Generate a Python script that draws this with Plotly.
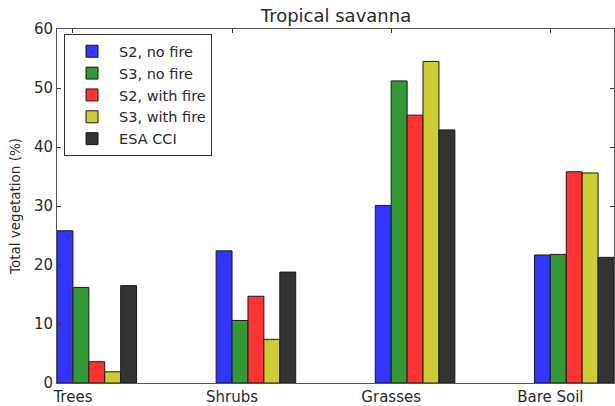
import plotly.graph_objects as go

categories = ["Trees", "Shrubs", "Grasses", "Bare Soil"]
series_names = ["S2, no fire", "S3, no fire", "S2, with fire", "S3, with fire", "ESA CCI"]
s2_no_fire = [25.8, 22.4, 30.1, 21.7]
s3_no_fire = [16.2, 10.6, 51.2, 21.8]
s2_with_fire = [3.6, 14.7, 45.4, 35.8]
s3_with_fire = [1.9, 7.4, 54.5, 35.6]
esa_cci = [16.5, 18.8, 42.9, 21.3]
y_ticks = [0, 10, 20, 30, 40, 50, 60]

series_values = [s2_no_fire, s3_no_fire, s2_with_fire, s3_with_fire, esa_cci]
colors = ["rgb(51,51,255)", "rgb(51,153,51)", "rgb(255,51,51)", "rgb(204,204,51)", "rgb(51,51,51)"]

bar_w = 0.1
idx = list(range(len(categories)))

fig = go.Figure()
for i, (name, vals, col) in enumerate(zip(series_names, series_values, colors)):
    fig.add_trace(go.Bar(
        x=idx, y=vals, name=name, width=bar_w, offset=i * bar_w,
        marker=dict(color=col, line=dict(color="#1a1a1a", width=1)),
        legendgroup=name,
    ))

font_col = "#2a2a2a"
fig.update_layout(
    width=615, height=406,
    margin=dict(l=57, r=1, t=29, b=23),
    paper_bgcolor="white", plot_bgcolor="white",
    barmode="overlay",
    font=dict(family="DejaVu Sans", size=14, color=font_col),
    title=dict(text="Tropical savanna", x=336 / 615, xanchor="center",
               y=1 - 16 / 406, yanchor="middle", font=dict(size=18, color=font_col)),
    showlegend=True,
    legend=dict(
        x=0.0126, y=0.985, xanchor="left", yanchor="top",
        bgcolor="white", bordercolor="#333", borderwidth=1,
        font=dict(size=14.5, color=font_col),
        tracegroupgap=0, itemwidth=44,
    ),
    xaxis=dict(
        range=[0, 3.5], tickvals=[i + bar_w for i in idx], ticktext=categories,
        ticks="inside", ticklen=4, tickcolor="#333",
        showline=True, linecolor="#555", linewidth=1, mirror="ticks",
        showgrid=False, zeroline=False, tickfont=dict(size=15),
    ),
    yaxis=dict(
        range=[0, 60], tickvals=y_ticks,
        ticks="inside", ticklen=4, tickcolor="#333",
        showline=True, linecolor="#555", linewidth=1, mirror="ticks",
        showgrid=False, zeroline=False, tickfont=dict(size=15),
        title=dict(text="Total vegetation (%)", font=dict(size=13.5), standoff=10),
    ),
)

fig.write_html(
    "out.html",
    config={"displayModeBar": False},
    post_script="document.body.style.margin='0';document.body.style.overflow='hidden';",
)
